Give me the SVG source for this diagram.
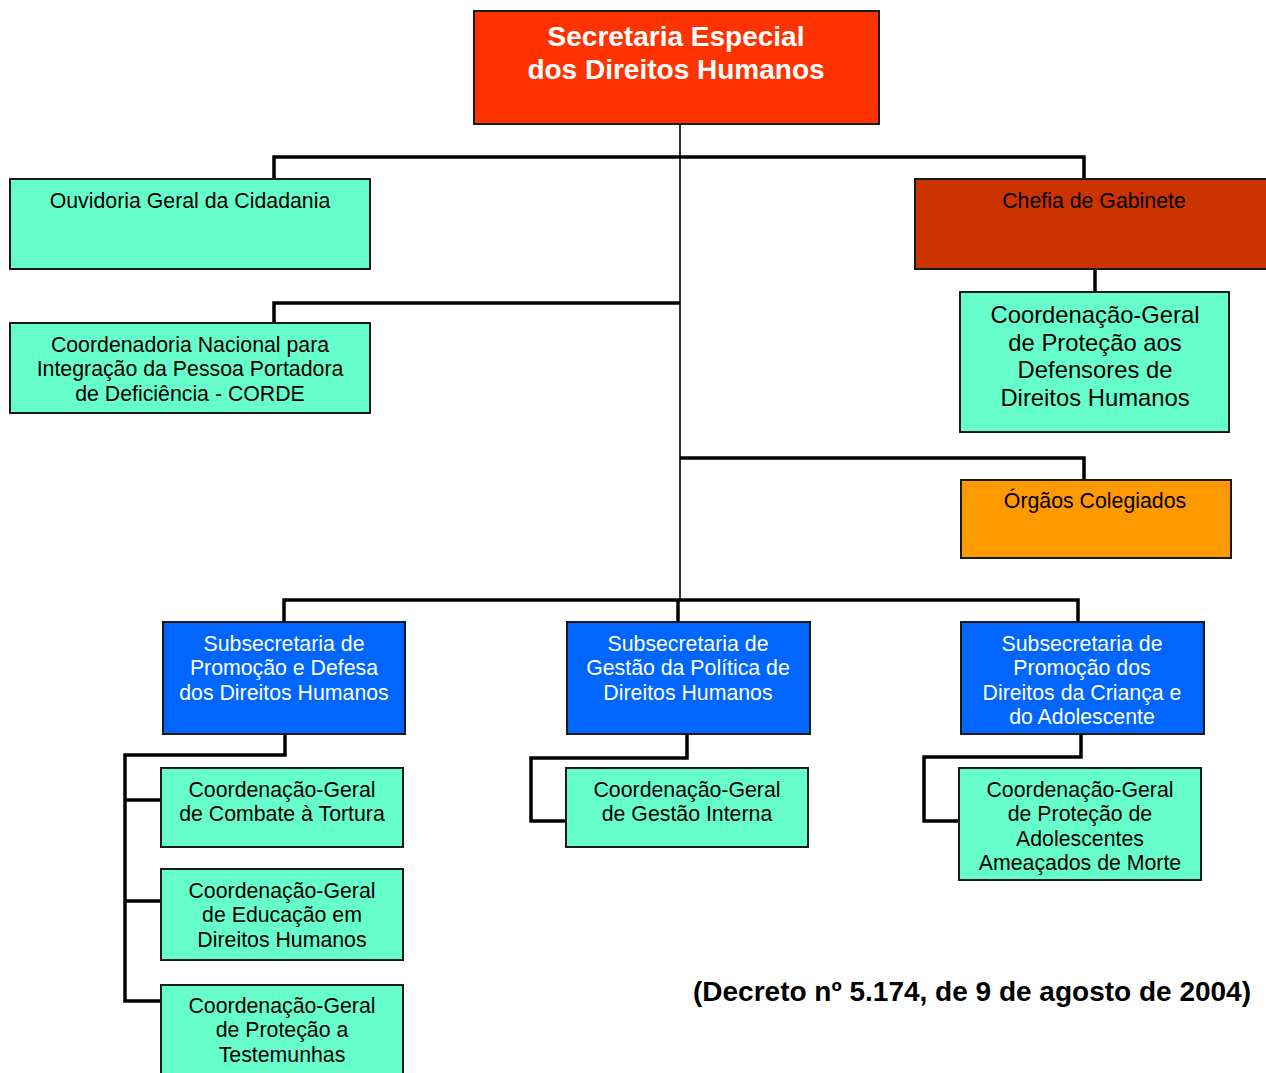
<svg xmlns="http://www.w3.org/2000/svg" width="1266" height="1073" viewBox="0 0 1266 1073">
<style>
.box{stroke:#1a1a1a;stroke-width:2}
.teal{fill:#66FFCC}
.blue{fill:#0066FF}
.t{font-family:"Liberation Sans",Arial,sans-serif;font-size:21.3px;text-anchor:middle;fill:#000}
.tw{fill:#fff}
.tl{font-size:23.8px}
.head{font-family:"Liberation Sans",Arial,sans-serif;font-size:28px;font-weight:bold;text-anchor:middle;fill:#fff}
.foot{font-family:"Liberation Sans",Arial,sans-serif;font-size:28px;font-weight:bold;fill:#000}
.c{fill:none;stroke:#000;stroke-width:3.5}
.trunk{fill:none;stroke:#333;stroke-width:2}
</style>
<rect width="1266" height="1073" fill="#fff"/>
<g id="connectors">
<path class="trunk" d="M680 119 V600"/>
<path class="c" d="M274 179 V157 H1084 V179"/>
<path class="c" d="M274 323 V303 H680"/>
<path class="c" d="M1095 269 V292"/>
<path class="c" d="M680 458 H1084 V480"/>
<path class="c" d="M284 622 V600 H1078 V622"/>
<path class="c" d="M678 600 V622"/>
<path class="c" d="M285 734 V755 H125 V1001 H160"/>
<path class="c" d="M125 800 H160"/>
<path class="c" d="M125 901 H160"/>
<path class="c" d="M687 734 V758 H531 V821 H566"/>
<path class="c" d="M1081 734 V757 H924 V821 H959"/>
</g>
<g id="secretaria">
<rect class="box" x="474" y="11" width="405" height="113" fill="#FF3300"/>
<text class="head" x="676" y="46">Secretaria Especial</text>
<text class="head" x="676" y="79">dos Direitos Humanos</text>
</g>
<g id="ouvidoria">
<rect class="box teal" x="10" y="179" width="360" height="90"/>
<text class="t" x="190" y="208">Ouvidoria Geral da Cidadania</text>
</g>
<g id="chefia">
<rect class="box" x="915" y="179" width="355" height="90" fill="#CC3300"/>
<text class="t" x="1094" y="208">Chefia de Gabinete</text>
</g>
<g id="defensores">
<rect class="box teal" x="960" y="292" width="269" height="140"/>
<text class="t tl" x="1095" y="323">Coordenação-Geral</text>
<text class="t tl" x="1095" y="351">de Proteção aos</text>
<text class="t tl" x="1095" y="378">Defensores de</text>
<text class="t tl" x="1095" y="406">Direitos Humanos</text>
</g>
<g id="corde">
<rect class="box teal" x="10" y="323" width="360" height="90"/>
<text class="t" x="190" y="352">Coordenadoria Nacional para</text>
<text class="t" x="190" y="376">Integração da Pessoa Portadora</text>
<text class="t" x="190" y="401">de Deficiência - CORDE</text>
</g>
<g id="orgaos">
<rect class="box" x="961" y="480" width="270" height="78" fill="#FF9900"/>
<text class="t" x="1095" y="508">Órgãos Colegiados</text>
</g>
<g id="sub-promocao-defesa">
<rect class="box blue" x="163" y="622" width="242" height="112"/>
<text class="t tw" x="284" y="651">Subsecretaria de</text>
<text class="t tw" x="284" y="675">Promoção e Defesa</text>
<text class="t tw" x="284" y="700">dos Direitos Humanos</text>
</g>
<g id="sub-gestao">
<rect class="box blue" x="567" y="622" width="243" height="112"/>
<text class="t tw" x="688" y="651">Subsecretaria de</text>
<text class="t tw" x="688" y="675">Gestão da Política de</text>
<text class="t tw" x="688" y="700">Direitos Humanos</text>
</g>
<g id="sub-crianca">
<rect class="box blue" x="961" y="622" width="243" height="112"/>
<text class="t tw" x="1082" y="651">Subsecretaria de</text>
<text class="t tw" x="1082" y="675">Promoção dos</text>
<text class="t tw" x="1082" y="700">Direitos da Criança e</text>
<text class="t tw" x="1082" y="724">do Adolescente</text>
</g>
<g id="cg-tortura">
<rect class="box teal" x="161" y="768" width="242" height="79"/>
<text class="t" x="282" y="797">Coordenação-Geral</text>
<text class="t" x="282" y="821">de Combate à Tortura</text>
</g>
<g id="cg-educacao">
<rect class="box teal" x="161" y="869" width="242" height="91"/>
<text class="t" x="282" y="898">Coordenação-Geral</text>
<text class="t" x="282" y="922">de Educação em</text>
<text class="t" x="282" y="947">Direitos Humanos</text>
</g>
<g id="cg-testemunhas">
<rect class="box teal" x="161" y="985" width="242" height="100"/>
<text class="t" x="282" y="1013">Coordenação-Geral</text>
<text class="t" x="282" y="1037">de Proteção a</text>
<text class="t" x="282" y="1062">Testemunhas</text>
</g>
<g id="cg-gestao-interna">
<rect class="box teal" x="566" y="768" width="242" height="79"/>
<text class="t" x="687" y="797">Coordenação-Geral</text>
<text class="t" x="687" y="821">de Gestão Interna</text>
</g>
<g id="cg-adolescentes">
<rect class="box teal" x="959" y="768" width="242" height="112"/>
<text class="t" x="1080" y="797">Coordenação-Geral</text>
<text class="t" x="1080" y="821">de Proteção de</text>
<text class="t" x="1080" y="846">Adolescentes</text>
<text class="t" x="1080" y="870">Ameaçados de Morte</text>
</g>
<text class="foot" x="693" y="1001">(Decreto nº 5.174, de 9 de agosto de 2004)</text>
</svg>
